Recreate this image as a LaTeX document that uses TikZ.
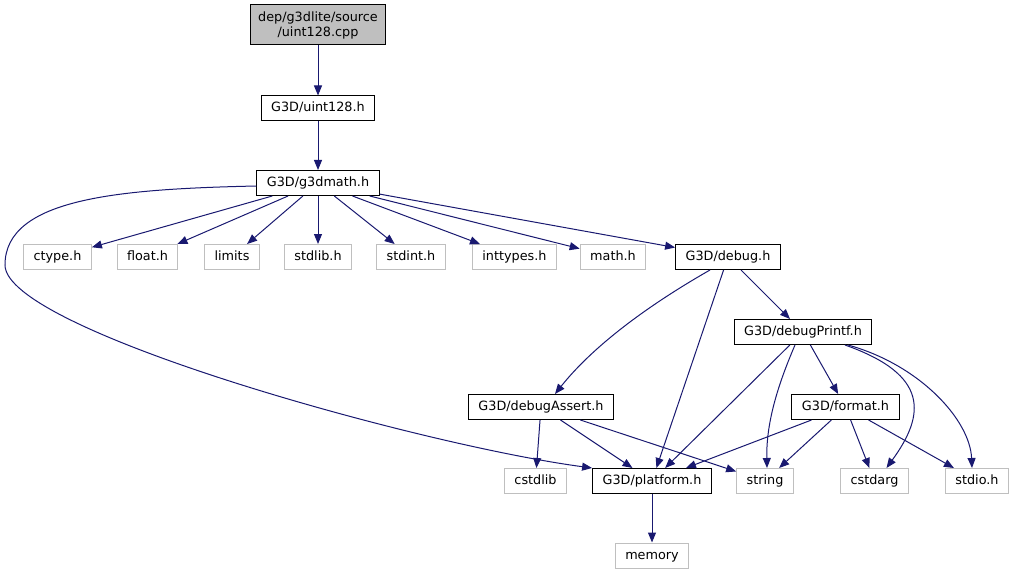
\documentclass[tikz,border=0pt]{standalone}
\usepackage{fontspec}
\setmainfont{DejaVu Sans}
\usetikzlibrary{graphs}
\usetikzlibrary{arrows.meta}

\definecolor{linkblue}{HTML}{191970}
\definecolor{extgrey}{HTML}{BFBFBF}

\tikzset{
  file/.style={draw=black, line width=1pt, fill=white, inner xsep=10pt,
    minimum height=25pt, text height=9.5pt, text depth=2.5pt,
    font=\fontsize{12.8}{15}\selectfont},
  extfile/.style={file, draw=extgrey},
  mainfile/.style={draw=black, line width=1pt, fill=extgrey, align=center,
    inner xsep=8pt, minimum height=40pt, font=\fontsize{12.8}{15}\selectfont},
  link/.style={draw=linkblue, line width=1pt},
}

\begin{document}
\begin{tikzpicture}[x=1pt, y=1pt, >={Triangle[length=10pt,width=8pt]},
    every edge/.style={link}]
  \useasboundingbox (0,0) rectangle (1015,-575);
  \node[mainfile] (cpp) at (318,-25) {dep/g3dlite/source\\/uint128.cpp};
  \node[file] (u128) at (318,-108.5) {G3D/uint128.h};
  \node[file] (g3dmath) at (318,-183) {G3D/g3dmath.h};
  \node[extfile] (ctype) at (57.5,-257) {ctype.h};
  \node[extfile] (float) at (147.5,-257) {float.h};
  \node[extfile] (limits) at (232,-257) {limits};
  \node[extfile] (stdlib) at (318,-257) {stdlib.h};
  \node[extfile] (stdint) at (411,-257) {stdint.h};
  \node[extfile] (inttypes) at (514.5,-257) {inttypes.h};
  \node[extfile] (mathh) at (613,-257) {math.h};
  \node[file] (debug) at (728,-257) {G3D/debug.h};
  \node[file] (dprintf) at (803,-332) {G3D/debugPrintf.h};
  \node[file] (dassert) at (541,-407) {G3D/debugAssert.h};
  \node[file] (format) at (845.5,-407) {G3D/format.h};
  \node[extfile] (cstdlib) at (535.5,-481) {cstdlib};
  \node[file] (platform) at (652,-481) {G3D/platform.h};
  \node[extfile] (string) at (765,-481) {string};
  \node[extfile] (cstdarg) at (874.5,-481) {cstdarg};
  \node[extfile] (stdio) at (977,-481) {stdio.h};
  \node[extfile] (memory) at (652,-555.5) {memory};
  \coordinate (bend) at (5,-265);
  \graph{(cpp) -> (u128)};
  \graph{(u128) -> (g3dmath)};
  \graph{(g3dmath) -> (ctype)};
  \graph{(g3dmath) -> (float)};
  \graph{(g3dmath) -> (limits)};
  \graph{(g3dmath) -> (stdlib)};
  \graph{(g3dmath) -> (stdint)};
  \graph{(g3dmath) -> (inttypes)};
  \graph{(g3dmath) -> (mathh)};
  \graph{(g3dmath) -> (debug)};
  \graph{(debug) -> (platform)};
  \graph{(debug) -> (dprintf)};
  \graph{(dprintf) -> (platform)};
  \graph{(dprintf) -> (format)};
  \graph{(dassert) -> (cstdlib)};
  \graph{(dassert) -> (platform)};
  \graph{(dassert) -> (string)};
  \graph{(format) -> (platform)};
  \graph{(format) -> (string)};
  \graph{(format) -> (cstdarg)};
  \graph{(format) -> (stdio)};
  \graph{(platform) -> (memory)};
  % curved links
  \draw[link,->] ([yshift=-3pt]g3dmath.west) .. controls (120,-189) and (5,-198) .. (bend)
    .. controls (5,-330) and (420,-445) .. (platform.north west);
  \draw[link,->] ([xshift=-18pt]debug.south) .. controls (640,-310) and (590,-350) .. ([xshift=14pt]dassert.north);
  \draw[link,->] ([xshift=-8pt]dprintf.south) .. controls (780,-380) and (766,-420) .. ([xshift=2pt]string.north);
  \draw[link,->] ([xshift=42pt]dprintf.south) .. controls (930,-375) and (925,-415) .. ([xshift=12pt]cstdarg.north);
  \draw[link,->] ([xshift=45pt]dprintf.south) .. controls (920,-365) and (970,-420) .. ([xshift=-5pt]stdio.north);
\end{tikzpicture}
\end{document}
